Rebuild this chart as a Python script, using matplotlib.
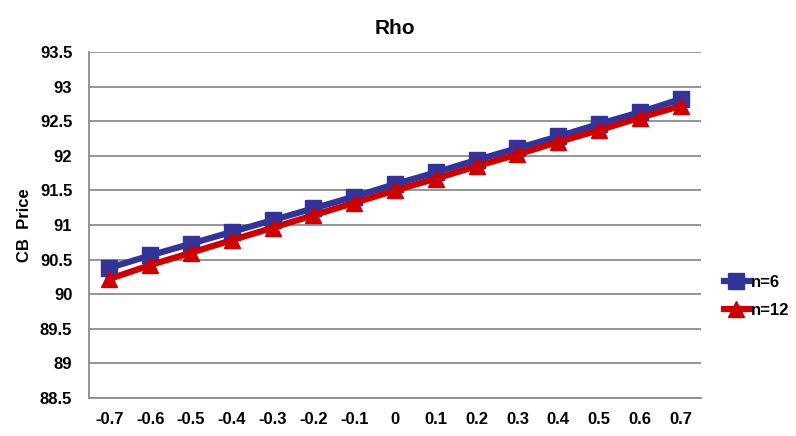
import numpy as np
import matplotlib.pyplot as plt

plt.rcParams['font.family'] = ['Liberation Sans', 'DejaVu Sans']
plt.rcParams['font.weight'] = 'bold'

rho = ['-0.7', '-0.6', '-0.5', '-0.4', '-0.3', '-0.2', '-0.1', '0',
       '0.1', '0.2', '0.3', '0.4', '0.5', '0.6', '0.7']
n6 = [90.38, 90.56, 90.73, 90.90, 91.07, 91.24, 91.41, 91.59,
      91.76, 91.94, 92.11, 92.28, 92.46, 92.63, 92.82]
n12 = [90.22, 90.42, 90.60, 90.78, 90.96, 91.14, 91.32, 91.50,
       91.67, 91.85, 92.02, 92.20, 92.37, 92.55, 92.72]

fig = plt.figure(figsize=(7.96, 4.36), dpi=100)
ax = fig.add_axes([0.1118, 0.0872, 0.7689, 0.7935])

x = np.arange(len(rho))
ax.plot(x, n6, color='#333399', lw=4.5, marker='s', ms=11, label='n=6', zorder=3)
ax.plot(x, n12, color='#CC0000', lw=4.5, marker='^', ms=12, label='n=12', zorder=4)

ax.set_xlim(-0.5, len(rho) - 0.5)
ax.set_ylim(88.5, 93.5)
ax.set_yticks(np.arange(88.5, 93.51, 0.5))
ax.set_yticklabels(['88.5', '89', '89.5', '90', '90.5', '91', '91.5',
                    '92', '92.5', '93', '93.5'])
ax.set_xticks(x)
ax.set_xticklabels(rho)
ax.tick_params(axis='both', length=0, labelsize=12)
ax.tick_params(axis='x', pad=10)
ax.tick_params(axis='y', pad=12)

ax.grid(axis='y', color='#8c8c8c', lw=1.3)
ax.set_axisbelow(True)
for s in ['top', 'right']:
    ax.spines[s].set_visible(False)
for s in ['left', 'bottom']:
    ax.spines[s].set_color('#8c8c8c')
    ax.spines[s].set_linewidth(1.3)

ax.set_title('Rho', fontsize=15, fontweight='bold', pad=13)
ax.set_ylabel('CB  Price', fontsize=12, fontweight='bold', labelpad=6)

fig.legend(loc='center left', bbox_to_anchor=(0.901, 0.32), frameon=False,
           fontsize=12, handlelength=1.5, handletextpad=0.15,
           labelspacing=0.8, borderaxespad=0)

fig.savefig('out.png', dpi=100)
